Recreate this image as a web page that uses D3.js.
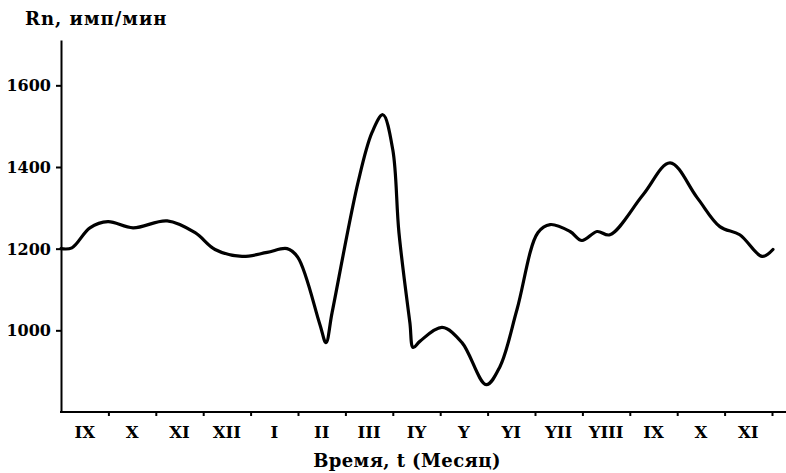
<!DOCTYPE html>
<html>
<head>
<meta charset="utf-8">
<script src="https://cdn.jsdelivr.net/npm/d3@7"></script>
<style>
  html, body { margin: 0; padding: 0; background: #fff; }
  svg { display: block; }
  text { font-family: "DejaVu Serif", "Liberation Serif", serif; font-weight: bold; fill: #000; }
</style>
</head>
<body>
<svg id="chart" width="786" height="473"></svg>
<script>
// ---- data ----
const months = ["IX","X","XI","XII","I","II","III","IY","Y","YI","YII","YIII","IX","X","XI"];
const yTicks = [1000, 1200, 1400, 1600];
// time in months from start of first interval, Rn value (имп/мин)
const timeT = [0, 0.23, 0.61, 0.99, 1.52, 2.24, 2.83, 3.25, 3.82, 4.35, 4.77, 5.00, 5.46, 5.59, 5.72, 6.27, 6.56, 6.79, 7.00, 7.13, 7.36, 7.43, 7.57, 8.04, 8.46, 8.97, 9.26, 9.62, 10.06, 10.32, 10.74, 10.99, 11.31, 11.58, 12.28, 12.85, 13.42, 13.90, 14.32, 14.79, 15.02];
const rnValues = [1200, 1202, 1251, 1266, 1251, 1268, 1239, 1198, 1181, 1191, 1200, 1178, 1015, 970, 1044, 1364, 1484, 1528, 1442, 1239, 1019, 958, 973, 1007, 970, 867, 911, 1051, 1239, 1259, 1242, 1220, 1242, 1234, 1332, 1410, 1325, 1254, 1234, 1181, 1198];

const svg = d3.select("#chart");
const x = d3.scaleLinear().domain([0, 15]).range([61, 772]);
const y = d3.scaleLinear().domain([800, 1711]).range([412, 40]);

// y axis
const yAxis = d3.axisLeft(y).tickValues(yTicks).tickSize(5).tickSizeOuter(0).tickFormat(d3.format("d"));
const gy = svg.append("g").attr("transform", "translate(61,0)").call(yAxis);
gy.select(".domain").attr("stroke", "#000").attr("stroke-width", 2);
gy.selectAll(".tick line").attr("stroke", "#000").attr("stroke-width", 2);
gy.selectAll(".tick text").attr("x", -10).attr("dy", "0.35em").style("font-size", "16px").style("font-family", "'DejaVu Serif', serif").style("font-weight", "bold");

// x axis line
svg.append("line").attr("x1", 60).attr("x2", 786).attr("y1", 412).attr("y2", 412)
  .attr("stroke", "#000").attr("stroke-width", 2);
const xAxis = d3.axisBottom(x).tickValues(d3.range(1, 16)).tickSize(4).tickSizeOuter(0).tickFormat("");
const gx = svg.append("g").attr("transform", "translate(0,412)").call(xAxis);
gx.select(".domain").remove();
gx.selectAll(".tick line").attr("stroke", "#000").attr("stroke-width", 2);

// month labels centered in each interval
svg.append("g").selectAll("text").data(months).join("text")
  .attr("x", (d, i) => x(i + 0.5))
  .attr("y", 438)
  .attr("text-anchor", "middle")
  .style("font-size", "16.5px")
  .text(d => d);

// titles
svg.append("text").attr("x", 25).attr("y", 25).style("font-size", "18px").style("letter-spacing", "1px").text("Rn, имп/мин");
svg.append("text").attr("x", 407).attr("y", 467).attr("text-anchor", "middle").style("font-size", "18px").style("letter-spacing", "0.4px").text("Время, t (Месяц)");

// curve
const pts = timeT.map((t, i) => [t, rnValues[i]]);
const line = d3.line().x(d => x(d[0])).y(d => y(d[1])).curve(d3.curveCatmullRom.alpha(0.5));
svg.append("path").datum(pts).attr("d", line)
  .attr("fill", "none").attr("stroke", "#000").attr("stroke-width", 3.2)
  .attr("stroke-linejoin", "round").attr("stroke-linecap", "round");
</script>
</body>
</html>
